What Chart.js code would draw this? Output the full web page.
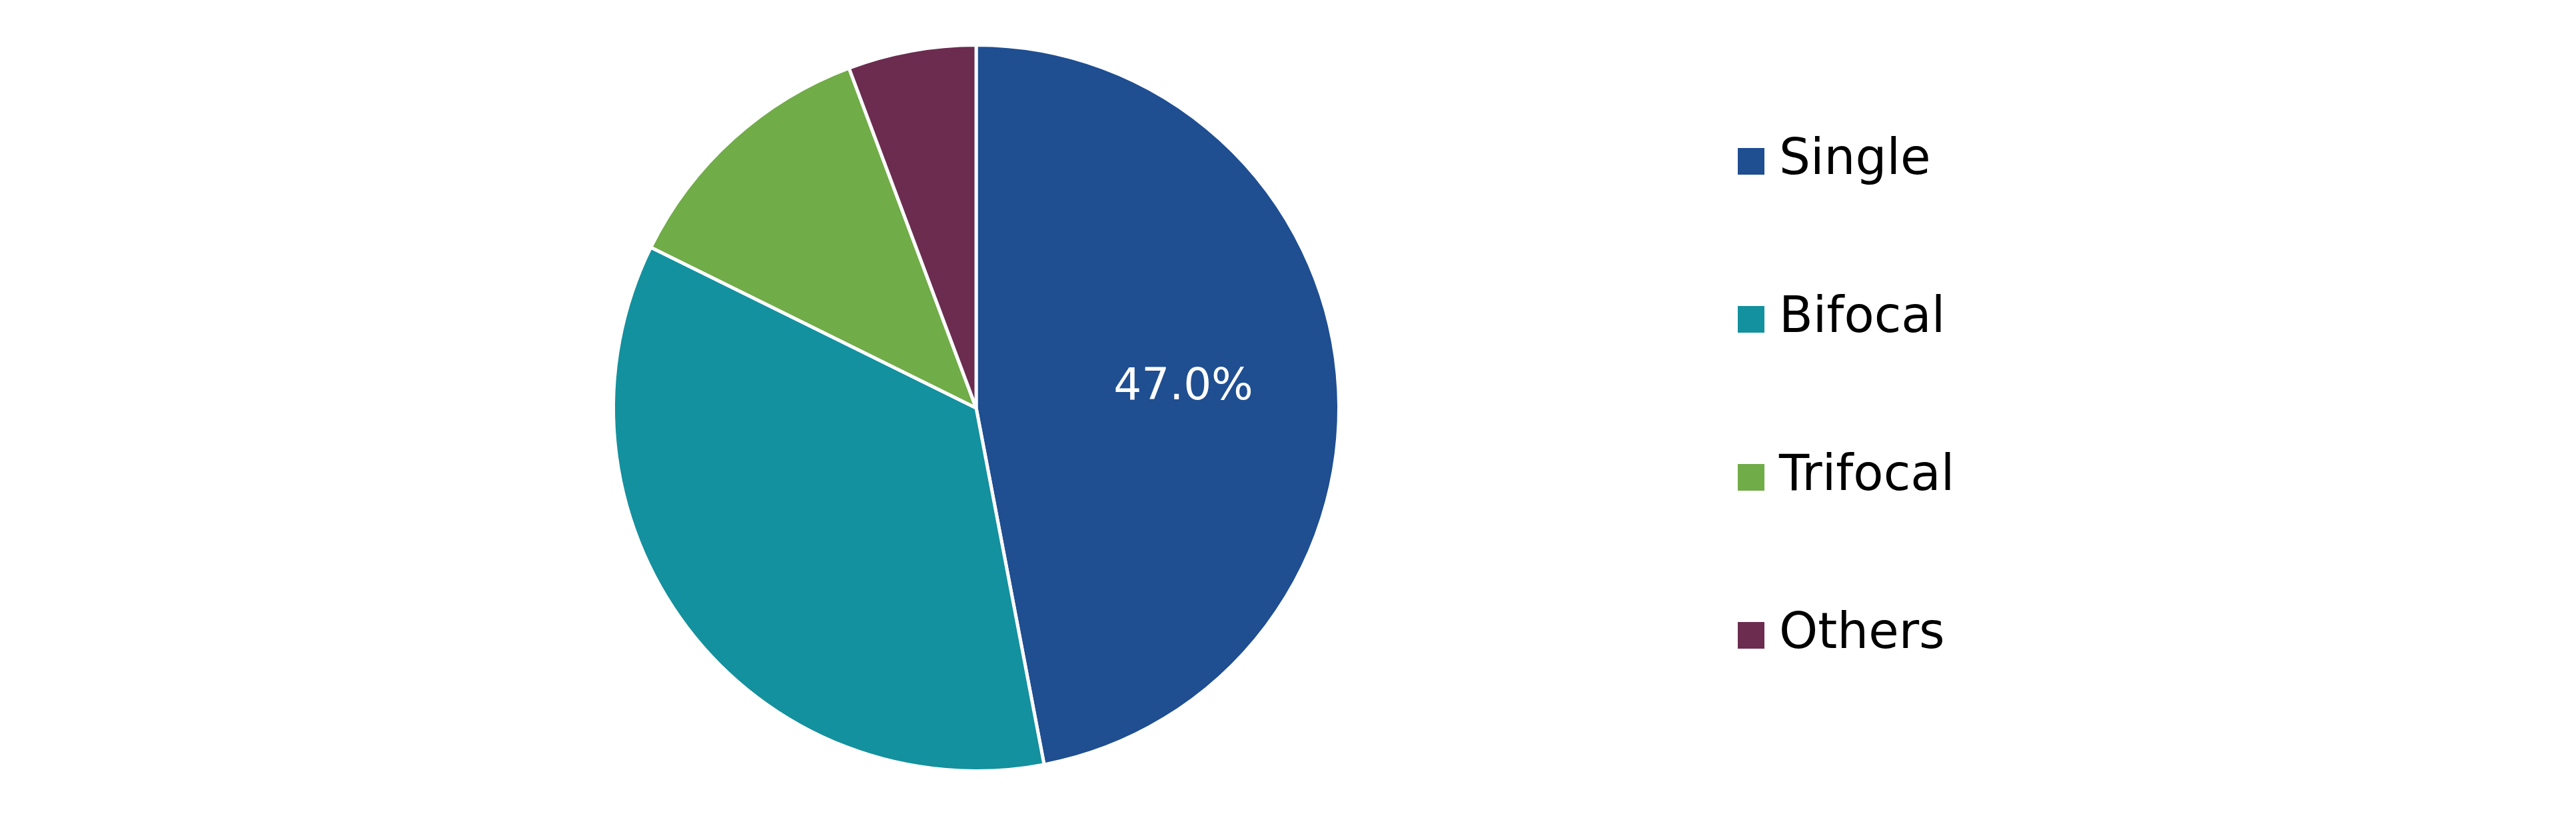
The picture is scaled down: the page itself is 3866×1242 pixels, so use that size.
<!DOCTYPE html>
<html><head><meta charset="utf-8">
<script src="https://cdn.jsdelivr.net/npm/chart.js@4/dist/chart.umd.min.js"></script>
<style>html,body{margin:0;background:#fff}#w{position:relative;width:3866px;height:1242px}</style>
</head><body><div id="w"><canvas id="c" width="3866" height="1242"></canvas></div>
<script>
const categories = ["Single", "Bifocal", "Trifocal", "Others"];
const shares = [47.0, 35.3, 12.0, 5.7];
const colors = ["#1f4e91", "#13919e", "#70ac47", "#6b2c50"];
const shownLabels = ["47.0%", "", "", ""];

const legendPlugin = {
  id: 'sideLegend',
  afterDraw(chart) {
    const ctx = chart.ctx;
    ctx.save();
    ctx.font = '74px "DejaVu Sans"';
    ctx.textBaseline = 'middle';
    categories.forEach((c, i) => {
      const y = 242 + i * 237;
      ctx.fillStyle = colors[i];
      ctx.fillRect(2608, y - 20, 40, 40);
      ctx.fillStyle = '#000';
      ctx.fillText(c, 2670, y);
    });
    const meta = chart.getDatasetMeta(0);
    ctx.font = '66px "DejaVu Sans"';
    ctx.textAlign = 'center';
    ctx.fillStyle = '#fff';
    meta.data.forEach((arc, i) => {
      if (!shownLabels[i]) return;
      const p = arc.tooltipPosition();
      ctx.fillText(shownLabels[i], 1776, 582);
    });
    ctx.restore();
  }
};

new Chart(document.getElementById('c'), {
  type: 'pie',
  data: { labels: categories, datasets: [{ data: shares, backgroundColor: colors, borderColor: '#fff', borderWidth: 5 }] },
  options: {
    responsive: false, animation: false,
    layout: { padding: { left: 918, right: 1854, top: 65, bottom: 83 } },
    plugins: { legend: { display: false }, tooltip: { enabled: false } }
  },
  plugins: [legendPlugin]
});
</script></body></html>
